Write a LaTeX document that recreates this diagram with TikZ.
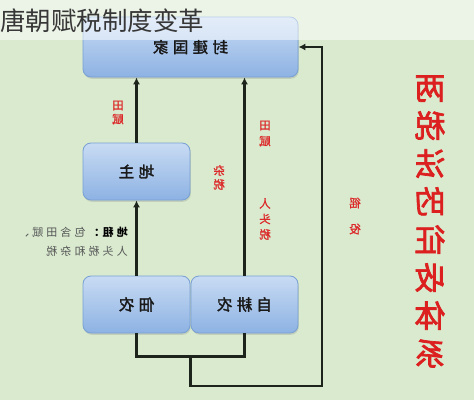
\documentclass[tikz,border=0pt]{standalone}
\usepackage{fontspec}
\usepackage{graphicx}
\usetikzlibrary{arrows.meta,shadows}
\newfontfamily\cjk{Noto Sans CJK SC}
\newfontfamily\cjkmed[FakeBold=1.2]{Noto Sans CJK SC}
\newfontfamily\cjkheavy[FakeBold=2.2]{Noto Sans CJK SC}
\newfontfamily\cjkwide[LetterSpace=28]{Noto Sans CJK SC}
\newfontfamily\cjkwidemed[LetterSpace=28,FakeBold=2]{Noto Sans CJK SC}
\newcommand\mir[1]{\reflectbox{#1}}
\definecolor{bgc}{RGB}{217,234,207}
\definecolor{boxtop}{RGB}{200,219,243}
\definecolor{boxbot}{RGB}{141,178,227}
\definecolor{boxedge}{RGB}{120,160,210}
\definecolor{linec}{RGB}{28,36,28}
\definecolor{labred}{RGB}{220,40,40}
\definecolor{bigred}{RGB}{220,32,32}
\definecolor{notegray}{RGB}{85,85,85}
\definecolor{titlegray}{RGB}{55,55,55}
\begin{document}
\begin{tikzpicture}[x=1pt,y=1pt,
  bluebox/.style={rectangle, rounded corners=8pt, draw=boxedge, line width=0.8pt,
    top color=boxtop, bottom color=boxbot, inner sep=0pt,
    font=\cjkwidemed\fontsize{15.5}{16}\selectfont, text=black!90,
    drop shadow={opacity=0.25, shadow xshift=0.8pt, shadow yshift=-1.8pt}},
  conn/.style={draw=linec, line width=2.4pt},
  arr/.style={conn, -{Latex[length=7pt,width=7pt]}},
  lbl/.style={text=labred, inner sep=0pt, align=center},
]
\useasboundingbox (0,0) rectangle (474,400);
\fill[bgc] (0,0) rectangle (474,400);

% boxes
\node[bluebox, minimum width=215pt, minimum height=60pt] (gj) at (190.5,353) {\mir{封建国家}};
\node[bluebox, minimum width=107pt, minimum height=57pt] (dz) at (136.5,228.5) {\mir{地主}};
\node[bluebox, minimum width=107pt, minimum height=57pt] (dn) at (136.5,95.5) {\mir{佃农}};
\node[bluebox, minimum width=107pt, minimum height=57pt] (zg) at (244.5,95.5) {\mir{自耕农}};

% connectors
\draw[arr] (dz.north) -- (dz.north |- gj.south);
\draw[arr] (dn.north) -- (dz.south);
\draw[arr] (zg.north) -- (zg.north |- gj.south);
\draw[conn] (dn.south) -- ++(0,-23) -| (zg.south);
\coordinate (mid) at (190.5,44);
\coordinate (lowr) at (322,14);
\draw[arr] (mid) |- (lowr) |- (gj.east);

% small red labels
\node[lbl, font=\cjkmed\fontsize{11.5}{14}\selectfont] (l1) at (118,287.5) {\mir{田}\\\mir{赋}};
\node[lbl, font=\cjkmed\fontsize{11.5}{14}\selectfont] (l2) at (219,222.5) {\mir{杂}\\\mir{税}};
\node[lbl, font=\cjkmed\fontsize{11.5}{16}\selectfont] (l3) at (265,266.5) {\mir{田}\\\mir{赋}};
\node[lbl, font=\cjkmed\fontsize{11.5}{15.5}\selectfont] (l4) at (265,181) {\mir{人}\\\mir{头}\\\mir{税}};
\node[lbl, font=\cjkmed\fontsize{11.5}{26}\selectfont] (l5) at (355,184) {\mir{徭}\\\mir{役}};

% big vertical title
\node[lbl, text=bigred, font=\cjkheavy\fontsize{31}{38}\selectfont] (big) at (430,178.5)
  {\mir{两}\\\mir{税}\\\mir{法}\\\mir{的}\\\mir{征}\\\mir{收}\\\mir{体}\\\mir{系}};

% left note
\node[anchor=east, inner sep=0pt] (note) at (128,157.5)
  {\mir{\cjkwide\fontsize{11}{19}\selectfont\begin{tabular}{@{}l@{}}\textbf{地租：}{\color{notegray}包含田赋、}\\{\color{notegray}人头税和杂税}\end{tabular}}};

% translucent title band
\fill[white, opacity=0.5] (0,360) rectangle (474,400);
\node[anchor=west, inner sep=0pt, font=\cjk\fontsize{25.5}{26}\selectfont, text=titlegray] (title) at (0,379) {唐朝赋税制度变革};
\end{tikzpicture}
\end{document}
